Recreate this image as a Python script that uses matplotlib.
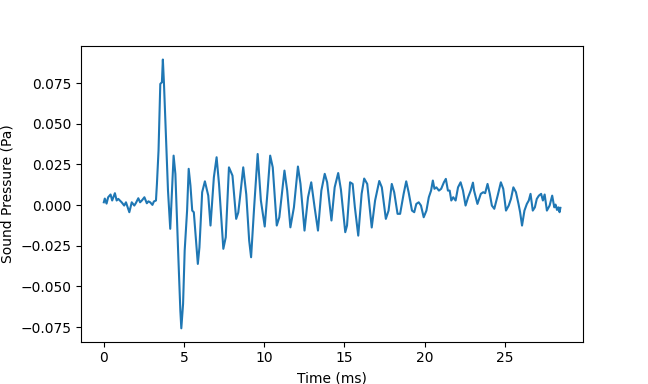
import matplotlib
matplotlib.use("Agg")
import matplotlib.pyplot as plt

# Time (ms) and sound pressure (Pa)
time_ms = [0.00, 0.06, 0.17, 0.27, 0.42, 0.52, 0.69, 0.80, 0.90, 1.11,
           1.27, 1.38, 1.49, 1.59, 1.74, 1.90, 1.99, 2.15, 2.26, 2.37,
           2.53, 2.68, 2.78, 2.89, 3.03, 3.12, 3.25, 3.31, 3.41, 3.52,
           3.62, 3.68, 3.75, 3.83, 4.00, 4.14, 4.25, 4.35, 4.46, 4.63,
           4.77, 4.83, 4.94, 5.04, 5.19, 5.29, 5.40, 5.51, 5.61, 5.86,
           5.96, 6.13, 6.30, 6.51, 6.65, 6.76, 6.86, 7.03, 7.18, 7.45,
           7.60, 7.80, 8.02, 8.25, 8.38, 8.49, 8.69, 8.88, 9.06, 9.18,
           9.37, 9.59, 9.79, 10.03, 10.21, 10.37, 10.53, 10.78, 10.94, 11.26,
           11.43, 11.63, 11.85, 12.10, 12.26, 12.51, 12.73, 12.93, 13.14, 13.35,
           13.56, 13.77, 13.92, 14.19, 14.39, 14.61, 14.78, 15.05, 15.16, 15.35,
           15.51, 15.65, 15.86, 16.07, 16.23, 16.42, 16.70, 16.91, 17.17, 17.33,
           17.58, 17.75, 17.95, 18.10, 18.31, 18.47, 18.69, 18.85, 19.00, 19.21,
           19.35, 19.48, 19.63, 19.77, 19.94, 20.11, 20.26, 20.40, 20.51, 20.61,
           20.73, 20.89, 21.03, 21.20, 21.32, 21.45, 21.56, 21.66, 21.78, 21.93,
           22.08, 22.24, 22.39, 22.55, 22.71, 22.87, 23.01, 23.08, 23.29, 23.50,
           23.65, 23.77, 23.92, 24.06, 24.19, 24.34, 24.55, 24.75, 24.90, 25.07,
           25.24, 25.38, 25.53, 25.69, 25.85, 25.95, 26.07, 26.22, 26.37, 26.49,
           26.60, 26.74, 26.87, 26.99, 27.12, 27.26, 27.37, 27.48, 27.62, 27.79,
           27.95, 28.08, 28.16, 28.25, 28.33, 28.41, 28.46]

pressure_pa = [0.0017, 0.0040, 0.0009, 0.0048, 0.0065, 0.0028, 0.0073, 0.0028, 0.0038, 0.0017,
               -0.0003, 0.0017, -0.0014, -0.0044, 0.0017, -0.0003, 0.0011, 0.0042, 0.0017, 0.0028,
               0.0048, 0.0011, 0.0023, 0.0017, 0.0001, 0.0022, 0.0028, 0.0130, 0.0335, 0.0745,
               0.0755, 0.0895, 0.0745, 0.0540, 0.0089, -0.0146, 0.0089, 0.0304, 0.0192, -0.0280,
               -0.0649, -0.0758, -0.0608, -0.0280, -0.0034, 0.0223, 0.0120, -0.0034, -0.0044, -0.0362,
               -0.0260, 0.0079, 0.0146, 0.0058, -0.0126, 0.0028, 0.0171, 0.0294, 0.0130, -0.0269,
               -0.0198, 0.0232, 0.0181, -0.0085, -0.0046, 0.0048, 0.0232, 0.0065, -0.0218, -0.0321,
               -0.0014, 0.0314, 0.0028, -0.0132, 0.0089, 0.0304, 0.0232, -0.0126, -0.0075, 0.0212,
               0.0089, -0.0137, -0.0014, 0.0237, 0.0130, -0.0157, 0.0048, 0.0140, -0.0014, -0.0157,
               0.0089, 0.0192, 0.0140, -0.0095, 0.0109, 0.0197, 0.0095, -0.0167, -0.0126, 0.0140,
               0.0130, -0.0014, -0.0188, 0.0069, 0.0163, 0.0130, -0.0138, 0.0028, 0.0148, 0.0109,
               -0.0085, -0.0034, 0.0130, 0.0079, -0.0054, -0.0054, 0.0069, 0.0146, 0.0079, -0.0034,
               -0.0044, 0.0007, 0.0017, -0.0003, -0.0075, -0.0034, 0.0048, 0.0089, 0.0151, 0.0100,
               0.0109, 0.0089, 0.0100, 0.0140, 0.0161, 0.0089, 0.0089, 0.0028, 0.0048, 0.0028,
               0.0109, 0.0140, 0.0089, -0.0003, 0.0048, 0.0089, 0.0138, 0.0089, 0.0007, 0.0069,
               0.0079, 0.0073, 0.0130, 0.0069, -0.0003, -0.0023, 0.0058, 0.0140, 0.0100, -0.0034,
               -0.0003, 0.0038, 0.0109, 0.0079, 0.0007, -0.0044, -0.0126, -0.0034, 0.0007, 0.0028,
               0.0069, -0.0034, -0.0014, 0.0038, 0.0058, 0.0069, 0.0028, 0.0065, -0.0034, -0.0003,
               0.0058, -0.0014, 0.0003, -0.0030, -0.0014, -0.0044, -0.0017]

fig, ax = plt.subplots(figsize=(6.48, 3.84), dpi=100)
ax.plot(time_ms, pressure_pa)
ax.set_xlabel('Time (ms)')
ax.set_ylabel('Sound Pressure (Pa)')

fig.savefig('out.png', dpi=100)
